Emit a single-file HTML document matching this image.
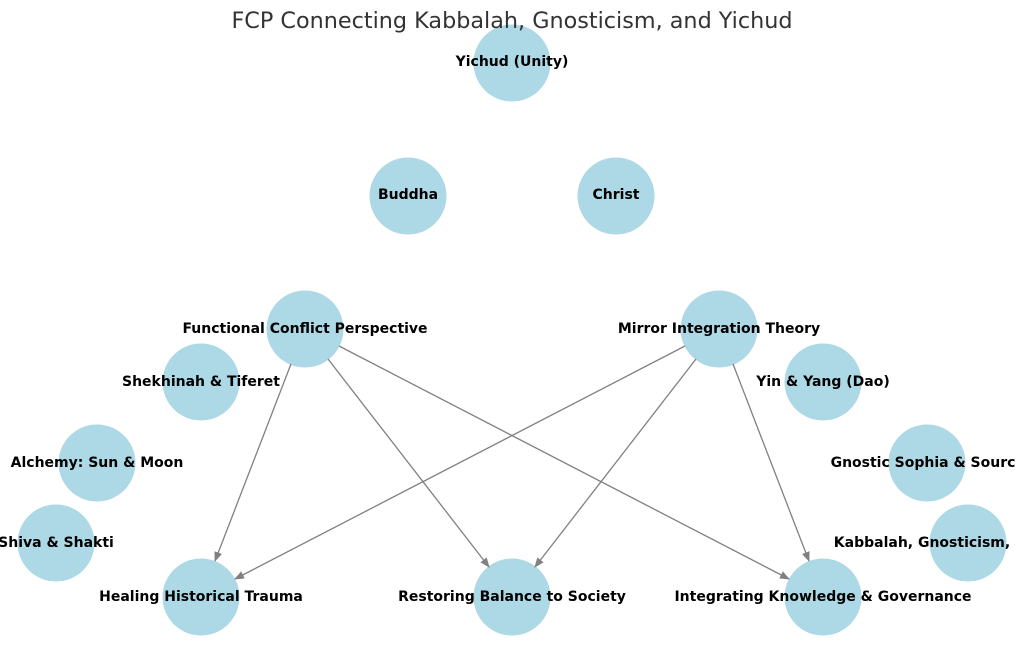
<!DOCTYPE html>
<html><head><meta charset="utf-8"><style>
html,body{margin:0;padding:0;background:#fff;width:1024px;height:648px;overflow:hidden}
svg{display:block}
.l{font-family:"DejaVu Sans","Liberation Sans",sans-serif;font-weight:bold;font-size:14px;fill:#000;text-anchor:middle;dominant-baseline:central}
.t{font-family:"DejaVu Sans","Liberation Sans",sans-serif;font-size:22.3px;fill:#333;text-anchor:middle}
</style></head><body>
<svg width="1024" height="648" viewBox="0 0 1024 648">
<defs><marker id="a" markerWidth="10" markerHeight="8" refX="9" refY="4" orient="auto" markerUnits="userSpaceOnUse"><path d="M0,0 L10,4 L0,8 Z" fill="#808080"/></marker></defs>
<g fill="#add8e6">
<circle cx="512" cy="63" r="38.5"/>
<circle cx="408" cy="196" r="38.5"/><circle cx="616" cy="196" r="38.5"/>
<circle cx="305" cy="329" r="38.5"/><circle cx="719" cy="329" r="38.5"/>
<circle cx="201" cy="382" r="38.5"/><circle cx="823" cy="382" r="38.5"/>
<circle cx="97" cy="463" r="38.5"/><circle cx="927" cy="463" r="38.5"/>
<circle cx="56" cy="543" r="38.5"/><circle cx="968" cy="543" r="38.5"/>
<circle cx="201" cy="597" r="38.5"/><circle cx="512" cy="597" r="38.5"/><circle cx="823" cy="597" r="38.5"/>
</g>
<g stroke="#808080" stroke-width="1.3" marker-end="url(#a)">
<line x1="291" y1="364" x2="215" y2="561"/>
<line x1="328" y1="359" x2="489" y2="567"/>
<line x1="339" y1="346" x2="789" y2="579"/>
<line x1="685" y1="346" x2="235" y2="579"/>
<line x1="696" y1="359" x2="535" y2="567"/>
<line x1="733" y1="364" x2="809" y2="561"/>
</g>
<text class="t" x="512" y="28">FCP Connecting Kabbalah, Gnosticism, and Yichud</text>
<text class="l" x="512" y="62">Yichud (Unity)</text>
<text class="l" x="408" y="195">Buddha</text>
<text class="l" x="616" y="195">Christ</text>
<text class="l" x="305" y="329">Functional Conflict Perspective</text>
<text class="l" x="719" y="329">Mirror Integration Theory</text>
<text class="l" x="201" y="382">Shekhinah &amp; Tiferet</text>
<text class="l" x="823" y="382">Yin &amp; Yang (Dao)</text>
<text class="l" x="97" y="463">Alchemy: Sun &amp; Moon</text>
<text class="l" x="923" y="463">Gnostic Sophia &amp; Sourc</text>
<text class="l" x="56" y="543">Shiva &amp; Shakti</text>
<text class="l" x="922" y="543">Kabbalah, Gnosticism,</text>
<text class="l" x="201" y="597">Healing Historical Trauma</text>
<text class="l" x="512" y="597">Restoring Balance to Society</text>
<text class="l" x="823" y="597">Integrating Knowledge &amp; Governance</text>
</svg>
</body></html>
